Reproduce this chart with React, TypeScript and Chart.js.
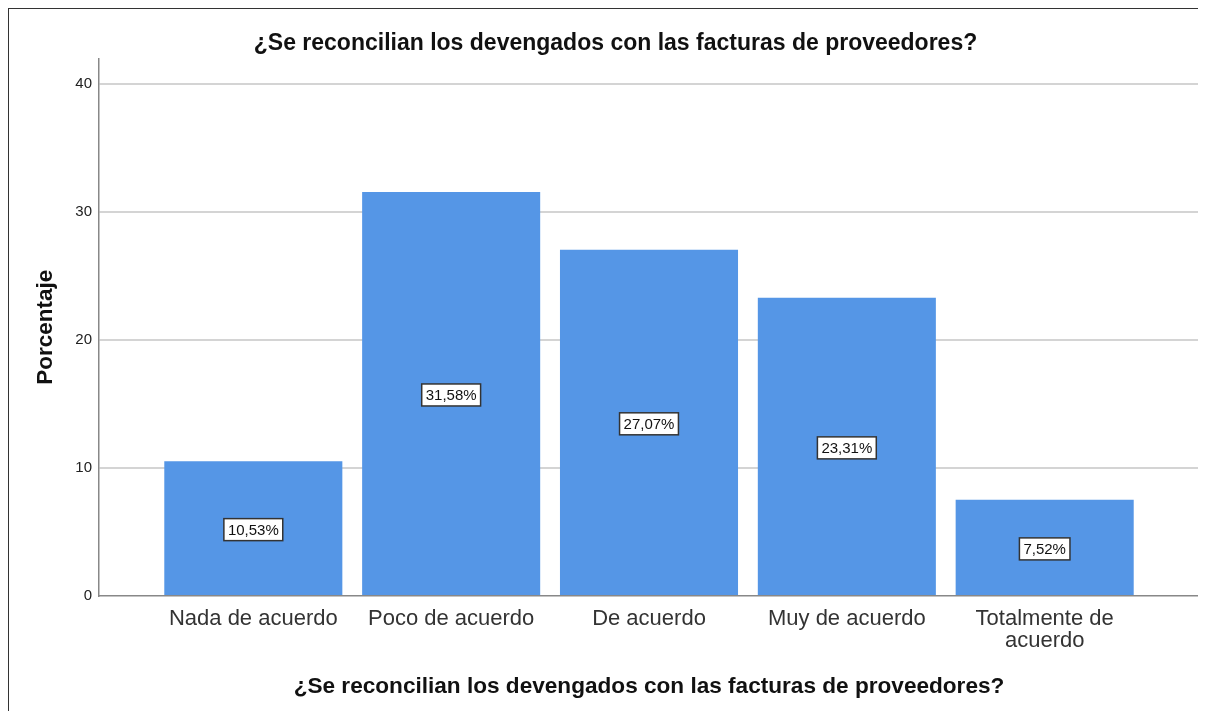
import React, { useEffect, useRef } from "react";
import { Chart, registerables } from "chart.js";

Chart.register(...registerables);

const categories: (string | string[])[] = [
  "Nada de acuerdo",
  "Poco de acuerdo",
  "De acuerdo",
  "Muy de acuerdo",
  ["Totalmente de", "acuerdo"],
];
const percentages: number[] = [10.53, 31.58, 27.07, 23.31, 7.52];
const valueLabels: string[] = ["10,53%", "31,58%", "27,07%", "23,31%", "7,52%"];
const yTicks: number[] = [0, 10, 20, 30, 40];

const titleText = "¿Se reconcilian los devengados con las facturas de proveedores?";
const FONT = "'Liberation Sans', Arial, sans-serif";

const labelPlugin = {
  id: "valueBoxes",
  afterDatasetsDraw(chart: any) {
    const ctx = chart.ctx;
    const meta = chart.getDatasetMeta(0);
    const yScale = chart.scales.y;
    ctx.save();
    ctx.font = `15px ${FONT}`;
    ctx.textAlign = "center";
    ctx.textBaseline = "middle";
    meta.data.forEach((bar: any, i: number) => {
      const v = percentages[i];
      const cx = bar.x;
      const cy = yScale.getPixelForValue(v / 2) + 1;
      const text = valueLabels[i];
      const w = ctx.measureText(text).width + 8;
      const h = 22;
      ctx.fillStyle = "#ffffff";
      ctx.fillRect(cx - w / 2, cy - h / 2, w, h);
      ctx.strokeStyle = "#333333";
      ctx.lineWidth = 1.5;
      ctx.strokeRect(cx - w / 2, cy - h / 2, w, h);
      ctx.fillStyle = "#111111";
      ctx.fillText(text, cx, cy + 1);
    });
    ctx.restore();
  },
};

export default function App() {
  const ref = useRef<HTMLCanvasElement | null>(null);

  useEffect(() => {
    document.documentElement.style.overflow = "hidden";
    document.body.style.overflow = "hidden";
    const canvas = ref.current;
    if (!canvas) return;
    const chart = new Chart(canvas, {
      type: "bar",
      data: {
        datasets: [
          {
            data: percentages.map((v, i) => ({ x: i, y: v })),
            backgroundColor: "#5596E6",
            borderWidth: 0,
            categoryPercentage: 1,
            barPercentage: 0.9,
          },
        ],
      },
      options: {
        responsive: false,
        animation: false,
        layout: { padding: { left: 23, right: 22, top: 0, bottom: 0 } },
        plugins: {
          legend: { display: false },
          tooltip: { enabled: false },
          title: {
            display: true,
            text: titleText,
            color: "#111111",
            font: { family: FONT, size: 23, weight: "bold" },
            padding: { top: 21, bottom: 1 },
          },
        },
        scales: {
          x: {
            type: "linear",
            offset: false,
            min: -0.78,
            max: 4.78,
            afterBuildTicks: (scale: any) => {
              scale.ticks = categories.map((_, i) => ({ value: i }));
            },
            afterFit: (scale: any) => {
              scale.height = 115;
            },
            ticks: {
              autoSkip: false,
              maxRotation: 0,
              padding: 12,
              color: "#333333",
              font: { family: FONT, size: 22, lineHeight: 1.0 },
              callback: (value: any) => categories[Math.round(Number(value))],
            },
            grid: { display: false, drawTicks: false },
            border: { display: true, color: "#888888", width: 1.5 },
            title: {
              display: true,
              text: titleText,
              color: "#111111",
              font: { family: FONT, size: 22.6, weight: "bold" },
              padding: { top: 0, bottom: 11 },
            },
          },
          y: {
            min: 0,
            max: 42,
            afterBuildTicks: (scale: any) => {
              scale.ticks = yTicks.map((v) => ({ value: v }));
            },
            afterFit: (scale: any) => {
              scale.width = 67;
            },
            ticks: {
              padding: 7,
              color: "#222222",
              font: { family: FONT, size: 15 },
            },
            grid: {
              color: (c: any) => (c.tick && c.tick.value === 0 ? "rgba(0,0,0,0)" : "#d4d4d4"),
              lineWidth: 2,
              drawTicks: false,
            },
            border: { display: true, color: "#888888", width: 1.5 },
            title: {
              display: true,
              text: "Porcentaje",
              color: "#111111",
              font: { family: FONT, size: 22.5, weight: "bold" },
              padding: { top: 0, bottom: 0 },
            },
          },
        },
      },
      plugins: [labelPlugin],
    });
    return () => chart.destroy();
  }, []);

  return (
    <div
      style={{
        borderTop: "1px solid #333",
        borderLeft: "1px solid #333",
        width: 1212,
        height: 702,
        overflow: "hidden",
      }}
    >
      <canvas ref={ref} width={1212} height={702} style={{ display: "block" }} />
    </div>
  );
}
